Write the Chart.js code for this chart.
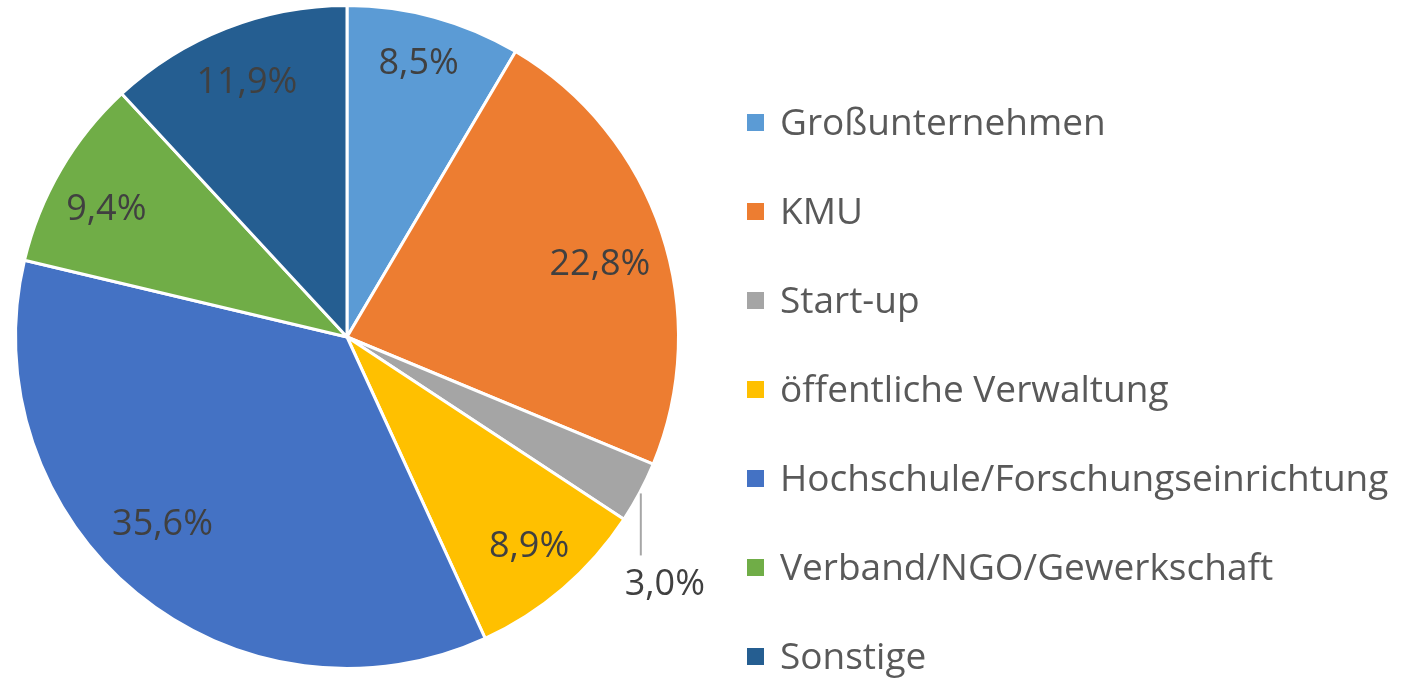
<!DOCTYPE html>
<html>
<head>
<meta charset="utf-8">
<script src="https://cdn.jsdelivr.net/npm/chart.js@4/dist/chart.umd.min.js"></script>
<style>
  html, body { margin: 0; padding: 0; background: #fff; }
  #wrap { width: 1406px; height: 679px; }
</style>
</head>
<body>
<div id="wrap"><canvas id="chart"></canvas></div>
<script>
const labels = ['Großunternehmen', 'KMU', 'Start-up', 'öffentliche Verwaltung',
  'Hochschule/Forschungseinrichtung', 'Verband/NGO/Gewerkschaft', 'Sonstige'];
const shares = [8.5, 22.8, 3.0, 8.9, 35.6, 9.4, 11.9];
const colors = ['#5B9BD5', '#ED7D31', '#A5A5A5', '#FFC000', '#4472C4', '#70AD47', '#255E91'];

// small pixel nudges so the labels sit where Excel's "best fit" put them
const labelNudge = [[0, -11], [-5, 14], [0, 0], [5, 3], [-12, -22], [-6, 10], [-1, -1]];

const fmt = v => v.toFixed(1).replace('.', ',') + '%';

// percent labels inside the slices, small slices get a leader line
const sliceLabels = {
  id: 'sliceLabels',
  afterDatasetsDraw(chart) {
    const ctx = chart.ctx;
    const meta = chart.getDatasetMeta(0);
    ctx.save();
    ctx.font = '36px "Open Sans"';
    ctx.fillStyle = '#404040';
    ctx.textAlign = 'center';
    ctx.textBaseline = 'middle';
    meta.data.forEach((arc, i) => {
      const p = arc.getProps(['x', 'y', 'startAngle', 'endAngle', 'outerRadius'], true);
      const mid = (p.startAngle + p.endAngle) / 2;
      const text = fmt(shares[i]);
      const [nx, ny] = labelNudge[i];
      if (shares[i] < 5) {
        const ex = p.x + Math.cos(mid) * p.outerRadius;
        const ey = p.y + Math.sin(mid) * p.outerRadius;
        ctx.strokeStyle = '#A6A6A6';
        ctx.lineWidth = 2;
        ctx.beginPath();
        ctx.moveTo(ex + 1, ey + 1);
        ctx.lineTo(ex + 1, ey + 63);
        ctx.stroke();
        ctx.fillText(text, ex + 25, ey + 92);
      } else {
        const r = p.outerRadius * 0.82;
        ctx.fillText(text, p.x + Math.cos(mid) * r + nx, p.y + Math.sin(mid) * r + ny);
      }
    });
    ctx.restore();
  }
};

// legend on the right, one row per category
const sideLegend = {
  id: 'sideLegend',
  afterDraw(chart) {
    const ctx = chart.ctx;
    ctx.save();
    ctx.font = '37px "Open Sans"';
    ctx.textBaseline = 'middle';
    labels.forEach((t, i) => {
      const cy = 122.5 + i * 89;
      ctx.fillStyle = colors[i];
      ctx.fillRect(747, cy - 8.5, 17, 17);
      ctx.fillStyle = '#595959';
      ctx.fillText(t, 780, cy + 2);
    });
    ctx.restore();
  }
};

new Chart(document.getElementById('chart'), {
  type: 'pie',
  data: {
    labels: labels,
    datasets: [{
      data: shares,
      backgroundColor: colors,
      borderColor: '#fff',
      borderWidth: 3
    }]
  },
  options: {
    responsive: true,
    maintainAspectRatio: false,
    animation: false,
    layout: { padding: { left: 14, top: 4, bottom: 9, right: 726 } },
    plugins: {
      legend: { display: false },
      tooltip: { enabled: false }
    }
  },
  plugins: [sliceLabels, sideLegend]
});
</script>
</body>
</html>
